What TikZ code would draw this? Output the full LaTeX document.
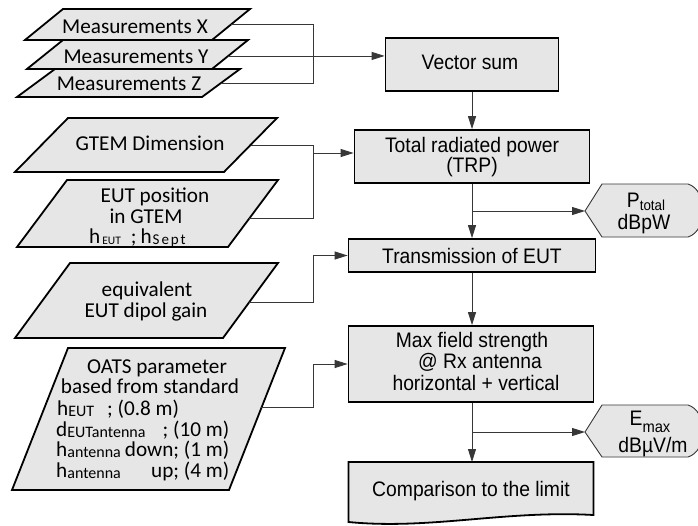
\documentclass[tikz,border=0pt]{standalone}
\usepackage{fontspec}
\setmainfont{Carlito}
\newfontfamily\rfont[FakeStretch=0.92]{Liberation Sans}
\usetikzlibrary{calc,arrows.meta}
\definecolor{boxgray}{RGB}{230,230,230}
\definecolor{linegray}{RGB}{55,55,55}
\newcommand\lsz{\fontsize{21.2}{22}\selectfont}
\newcommand\rsz{\rfont\fontsize{21}{22}\selectfont}
\newcommand\ssz{\fontsize{16}{16}\selectfont}
\newcommand\tsz{\fontsize{11.5}{12}\selectfont}
\newcommand\mypara[6]{%
  \coordinate (#1-tl) at (#4,#2);
  \coordinate (#1-tr) at ({#4+#6},#2);
  \coordinate (#1-br) at ({#5+#6},#3);
  \coordinate (#1-bl) at (#5,#3);
  \filldraw[parabox] (#1-tl) -- (#1-tr) -- (#1-br) -- (#1-bl) -- cycle;}
\begin{document}
\begin{tikzpicture}[x=1pt,y=-1pt,
  parabox/.style={draw=black,fill=boxgray,line width=1.8pt,line join=miter},
  procbox/.style={draw=black,fill=boxgray,line width=1.8pt,rectangle,inner sep=0pt},
  hexbox/.style={draw=linegray,fill=boxgray,line width=0.9pt},
  conn/.style={draw=linegray,line width=0.9pt},
  arr/.style={conn,-{Triangle[length=13pt,width=8pt]}},
  ltext/.style={font=\lsz,inner sep=0pt,anchor=base},
  lwtext/.style={font=\lsz,inner sep=0pt,anchor=base west},
  rtext/.style={font=\rsz,inner sep=0pt,anchor=base},
]
\useasboundingbox (0,0) rectangle (698,525);
\fill[white] (0,0) rectangle (698,525);

% ---------- left inputs ----------
\mypara{mx}{9}{40}{63}{25}{187}
\mypara{my}{40}{69}{63}{27}{185}
\mypara{mz}{69}{97}{55}{17}{185}
\mypara{gt}{118}{172}{68}{15}{209}
\mypara{eu}{180}{247}{67}{17}{211}
\mypara{eq}{263}{338}{70}{15}{208}
\mypara{oa}{348}{490}{68}{12}{217}

\coordinate (mx-r) at ($(mx-tr)!0.5!(mx-br)$);
\coordinate (my-r) at ($(my-tr)!0.55!(my-br)$);
\coordinate (mz-r) at ($(mz-tr)!0.5!(mz-br)$);
\coordinate (gt-r) at ($(gt-tr)!0.5!(gt-br)$);
\coordinate (eu-r) at ($(eu-tr)!0.58!(eu-br)$);
\coordinate (eq-r) at ($(eq-tr)!0.52!(eq-br)$);
\coordinate (oa-r) at ($(oa-tr)!0.42!(oa-br)$);

\node[ltext] (mxt) at (135,33) {Measurements X};
\node[ltext] (myt) at (136,63) {Measurements Y};
\node[ltext] (mzt) at (129,90) {Measurements Z};
\node[ltext] (gtt) at (150,150) {GTEM Dimension};
\node[ltext] (eut1) at (155,202) {EUT position};
\node[ltext] (eut2) at (146,223) {in GTEM};
\node[lwtext] (eut3) at (89,243) {h\hspace{2pt}\raisebox{-1.5pt}{\tsz EUT}\hspace{10pt};\hspace{4pt}h\hspace{1pt}\raisebox{-1.5pt}{\makebox[33pt][s]{\fontsize{15}{15}\selectfont S\hfill e\hfill p\hfill t}}};
\node[ltext] (eqt1) at (147,296.5) {equivalent};
\node[ltext] (eqt2) at (146,317) {EUT dipol gain};
\node[ltext] (oat1) at (157,373) {OATS parameter};
\node[ltext] (oat2) at (150,393) {based from standard};
\node[lwtext] (oat3) at (57,415.5) {h\raisebox{-1pt}{\ssz EUT}\hspace{13pt}; (0.8 m)};
\node[lwtext] (oat4) at (56,436) {\makebox[173pt][l]{d\raisebox{-1pt}{\ssz EUTantenna}\hfill; (10 m)}};
\node[lwtext] (oat5) at (56,456.5) {\makebox[173pt][l]{h\raisebox{-1pt}{\ssz antenna}\hfill down; (1 m)}};
\node[lwtext] (oat6) at (56,477) {\makebox[173pt][l]{h\raisebox{-1pt}{\ssz antenna}\hfill up; (4 m)}};

% ---------- right process column ----------
\node[procbox,minimum width=173pt,minimum height=53pt] (vs) at (472,64.5) {};
\node[rtext] (vst) at (470,69.3) {Vector sum};
\node[procbox,minimum width=235pt,minimum height=53pt] (trp) at (472,156.5) {};
\node[rtext] (trpt1) at (472,152) {Total radiated power};
\node[rtext] (trpt2) at (472,172) {(TRP)};
\node[procbox,minimum width=247pt,minimum height=33pt] (tx) at (472,255.5) {};
\node[rtext] (txt) at (472,263) {Transmission of EUT};
\node[procbox,minimum width=245pt,minimum height=76pt] (mf) at (471,364) {};
\node[rtext] (mft1) at (472,347) {Max field strength};
\node[rtext] (mft2) at (480,368) {@ Rx antenna};
\node[rtext] (mft3) at (476,390) {horizontal + vertical};

\filldraw[parabox] (348.5,462) -- (593.5,462) -- (593.5,515)
  .. controls (505,510) and (430,530) .. (348.5,522) -- cycle;
\coordinate (cmp) at (472,462);
\node[rtext] (cmpt) at (471,496) {Comparison to the limit};

% ---------- outputs ----------
\filldraw[hexbox] (585,211) -- (602,184) -- (688,184)
  .. controls (708,190) and (708,231) .. (688,237) -- (602,237) -- cycle;
\coordinate (pt) at (585,211);
\node[rtext] (ptt1) at (646,207) {P\raisebox{-3pt}{\fontsize{14.5}{15}\selectfont total}};
\node[rtext] (ptt2) at (644,229) {dBpW};

\filldraw[hexbox] (585,432) -- (602,405) -- (688,405)
  .. controls (708,411) and (708,451) .. (688,457) -- (602,457) -- cycle;
\coordinate (em) at (585,432);
\node[rtext] (emt1) at (650,425) {E\raisebox{-7pt}{\fontsize{16}{16}\selectfont max}};
\node[rtext] (emt2) at (653,452) {dBµV/m};

% ---------- connectors ----------
\coordinate (bus) at (313,0);
\draw[conn] (mx-r) -- (mx-r -| bus) -- (mz-r -| bus) -- (mz-r);
\draw[arr] (my-r) -- (my-r -| vs.west);
\draw[conn] (gt-r) -- (gt-r -| bus) -- (eu-r -| bus) -- (eu-r);
\coordinate (j2) at (313,153);
\draw[arr] (j2) -- (j2 -| trp.west);
\draw[arr] (eq-r) -- (eq-r -| bus) -- (bus |- tx.west) -- (tx.west);
\draw[arr] (oa-r) -- (oa-r -| bus) -- (bus |- mf.west) -- (mf.west);

\draw[arr] (vs.south -| trp.north) -- (trp.north);
\draw[arr] (trp.south) -- (trp.south |- tx.north);
\coordinate (j3) at (472,211);
\draw[arr] (j3) -- (pt);
\draw[arr] (tx.south) -- (tx.south |- mf.north);
\draw[arr] (mf.south -| cmp) -- (cmp);
\coordinate (j4) at (472,432);
\draw[arr] (j4) -- (em);
\end{tikzpicture}
\end{document}
